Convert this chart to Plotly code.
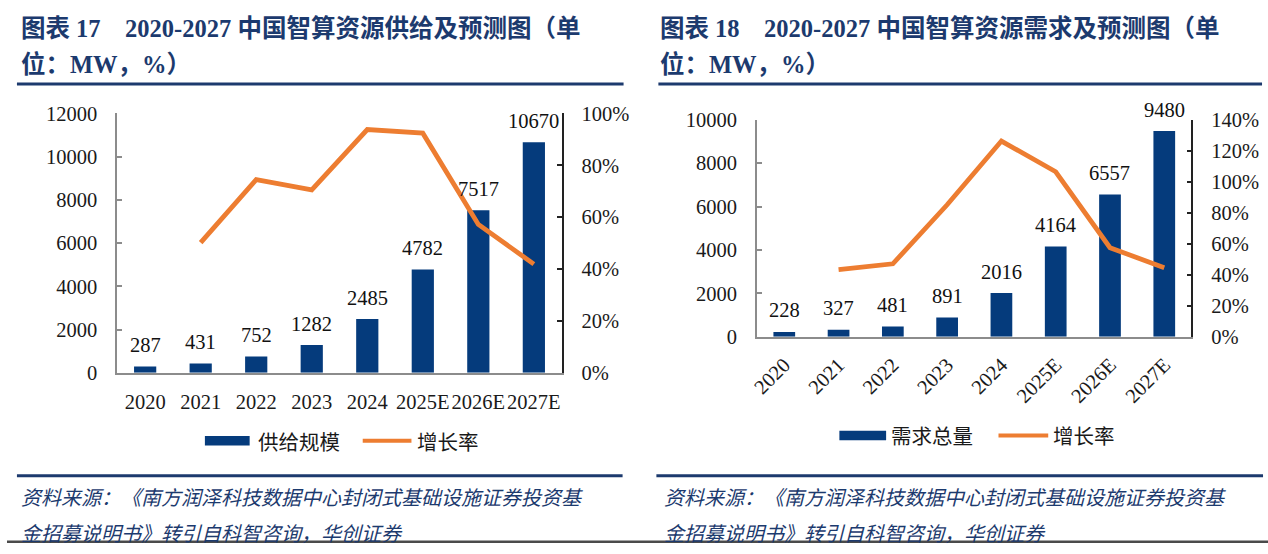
import plotly.graph_objects as go

# ---- data ----
years = ["2020", "2021", "2022", "2023", "2024", "2025E", "2026E", "2027E"]
supply = [287, 431, 752, 1282, 2485, 4782, 7517, 10670]
supply_growth = [None, 50.2, 74.5, 70.5, 93.8, 92.4, 57.2, 41.9]
demand = [228, 327, 481, 891, 2016, 4164, 6557, 9480]
demand_growth = [None, 43.4, 47.1, 85.2, 126.3, 106.5, 57.5, 44.6]

left_title = ["图表 17\u00a0\u00a0\u00a0\u00a02020-2027 中国智算资源供给及预测图（单", "位：MW，%）"]
right_title = ["图表 18\u00a0\u00a0\u00a0\u00a02020-2027 中国智算资源需求及预测图（单", "位：MW，%）"]
source_lines = ["资料来源：《南方润泽科技数据中心封闭式基础设施证券投资基",
                "金招募说明书》转引自科智咨询，华创证券"]
left_legend = ["供给规模", "增长率"]
right_legend = ["需求总量", "增长率"]

# ---- style ----
W, H = 1268, 554
BLUE = "#053B7C"
ORANGE = "#ED7D31"
NAVY = "#1C3A6E"
GRAY = "#8C8C8C"
SERIF = "Liberation Serif, Times New Roman, serif"
CJK = "Liberation Serif, Noto Sans CJK SC, serif"
TICKFONT = dict(family=SERIF, size=20.5, color="#1a1a1a")


def px(x):
    return x / W


def py(y):
    return 1 - y / H


fig = go.Figure()
fig.add_trace(go.Bar(x=years, y=supply, xaxis="x", yaxis="y", marker_color=BLUE,
                     marker_line_width=0, showlegend=False))
fig.add_trace(go.Scatter(x=years, y=supply_growth, xaxis="x", yaxis="y2", mode="lines",
                         line=dict(color=ORANGE, width=4.8), showlegend=False))
fig.add_trace(go.Bar(x=years, y=demand, xaxis="x2", yaxis="y3", marker_color=BLUE,
                     marker_line_width=0, showlegend=False))
fig.add_trace(go.Scatter(x=years, y=demand_growth, xaxis="x2", yaxis="y4", mode="lines",
                         line=dict(color=ORANGE, width=4.8), showlegend=False))

common_x = dict(type="category", showline=True, linecolor=GRAY, linewidth=2, ticks="",
                showgrid=False, zeroline=False, tickfont=TICKFONT, range=[-0.5, 7.5])
left_y = dict(showline=True, linecolor=GRAY, linewidth=2, ticks="inside", ticklen=5,
              tickcolor=GRAY, tickwidth=2, showgrid=False, zeroline=False,
              tickfont=TICKFONT, ticklabelstandoff=14, tickformat="d")
right_y = dict(showline=True, linecolor="#222222", linewidth=1.5, ticks="inside", ticklen=5,
               tickcolor="#222222", tickwidth=1.5, showgrid=False, zeroline=False,
               tickfont=TICKFONT, ticksuffix="%", side="right", ticklabelstandoff=14)

fig.update_layout(
    width=W, height=H, margin=dict(l=0, r=0, t=0, b=0),
    paper_bgcolor="white", plot_bgcolor="rgba(0,0,0,0)",
    bargap=0.6, showlegend=False,
    xaxis=dict(common_x, domain=[px(111), px(557.7)], anchor="y", tickangle=0,
               ticklabelstandoff=10),
    yaxis=dict(left_y, domain=[py(376.7), py(106.7)], range=[0, 12000], dtick=2000, anchor="x"),
    yaxis2=dict(right_y, overlaying="y", anchor="x", range=[0, 100], dtick=20),
    xaxis2=dict(common_x, domain=[px(754.3), px(1191)], anchor="y3", tickangle=-45,
                ticklabelstandoff=6),
    yaxis3=dict(left_y, domain=[py(339.3), py(113.3)], range=[0, 10000], dtick=2000, anchor="x2"),
    yaxis4=dict(right_y, overlaying="y3", anchor="x2", range=[0, 140], dtick=20),
)

# data labels (x given as category index so numeric-looking names are not misread)
for xr, yr, vals in (("x", "y", supply), ("x2", "y3", demand)):
    for i, v in enumerate(vals):
        fig.add_annotation(x=i, y=v, xref=xr, yref=yr, text=str(v), showarrow=False,
                           yanchor="middle", yshift=21.5,
                           font=dict(family=SERIF, size=20.5, color="#111111"))

# titles
for x0, lines in ((12, left_title), (655, right_title)):
    for yy, t in zip((18, 55), lines):
        fig.add_annotation(x=px(x0), y=py(yy), xref="paper", yref="paper", text="<b>" + t + "</b>",
                           showarrow=False, xanchor="left", yanchor="middle",
                           font=dict(family=CJK, size=24.5, color=NAVY))

# source notes
for x0 in (12, 659):
    for yy, t in zip((506, 543), source_lines):
        fig.add_annotation(x=px(x0), y=py(yy), xref="paper", yref="paper", text="<i>" + t + "</i>",
                           showarrow=False, xanchor="left", yanchor="middle",
                           font=dict(family="Noto Sans CJK SC, serif", size=20, color=NAVY))

# rules
for x0, x1, yy in ((10, 620, 76), (655, 1262, 76), (10, 619, 484), (653, 1263, 484)):
    fig.add_shape(type="line", xref="paper", yref="paper", x0=px(x0), x1=px(x1), y0=py(yy), y1=py(yy),
                  line=dict(color=NAVY, width=3))
fig.add_shape(type="rect", xref="paper", yref="paper", x0=0, x1=1, y0=py(554), y1=py(551.5),
              fillcolor="#4a4a4a", line_width=0)

# legends
LEGFONT = dict(family="Noto Sans CJK SC, serif", size=20.5, color="#1a1a1a")
for (sx0, sx1, ly, tx1, lx0, lx1, tx2, names) in (
        (199, 244, 447.5, 250, 357.7, 406.7, 410, left_legend),
        (837, 884, 442, 887, 997, 1047, 1050, right_legend)):
    fig.add_shape(type="rect", xref="paper", yref="paper", x0=px(sx0), x1=px(sx1),
                  y0=py(ly + 5), y1=py(ly - 5), fillcolor=BLUE, line_width=0)
    fig.add_shape(type="line", xref="paper", yref="paper", x0=px(lx0), x1=px(lx1),
                  y0=py(ly), y1=py(ly), line=dict(color=ORANGE, width=4))
    fig.add_annotation(x=px(tx1), y=py(ly), xref="paper", yref="paper", text=names[0],
                       showarrow=False, xanchor="left", yanchor="middle", font=LEGFONT)
    fig.add_annotation(x=px(tx2), y=py(ly), xref="paper", yref="paper", text=names[1],
                       showarrow=False, xanchor="left", yanchor="middle", font=LEGFONT)

fig.write_html("out.html", config={"displayModeBar": False},
               post_script="document.body.style.margin='0';document.body.style.overflow='hidden';")
